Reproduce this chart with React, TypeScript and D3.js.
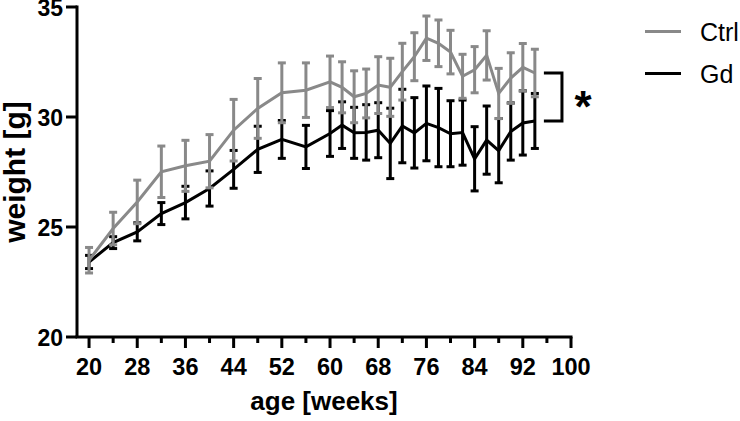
import { useRef, useEffect } from 'react';
import * as d3 from 'd3';

// age in weeks
const weeks = [20, 24, 28, 32, 36, 40, 44, 48, 52, 56, 60, 62, 64, 66, 68, 70, 72, 74, 76, 78, 80, 82, 84, 86, 88, 90, 92, 94];

const ctrlMean = [23.49, 24.93, 26.14, 27.51, 27.78, 27.99, 29.40, 30.39, 31.10, 31.22, 31.60, 31.35, 30.92, 31.07, 31.45, 31.35, 32.06, 32.74, 33.58, 33.35, 32.95, 31.85, 32.15, 32.80, 31.07, 31.77, 32.26, 32.00];
const ctrlSd = [0.58, 0.74, 0.99, 1.17, 1.16, 1.21, 1.40, 1.36, 1.36, 1.24, 1.17, 1.16, 1.18, 1.11, 1.29, 1.32, 1.29, 1.09, 1.01, 1.06, 0.99, 1.00, 1.05, 1.12, 1.14, 1.15, 1.08, 1.08];

const gdMean = [23.41, 24.29, 24.78, 25.61, 26.11, 26.75, 27.62, 28.53, 28.98, 28.64, 29.25, 29.63, 29.28, 29.30, 29.40, 28.80, 29.59, 29.28, 29.71, 29.52, 29.24, 29.29, 28.10, 28.95, 28.47, 29.34, 29.73, 29.82];
const gdSd = [0.30, 0.27, 0.41, 0.50, 0.74, 0.80, 0.86, 1.05, 0.86, 0.98, 1.04, 1.06, 1.16, 1.26, 1.25, 1.60, 1.67, 1.60, 1.70, 1.78, 1.50, 1.48, 1.46, 1.55, 1.46, 1.30, 1.46, 1.25];

const yTicks = [20, 25, 30, 35];
const xTicks = d3.range(20, 101, 4);
const xLabels = d3.range(20, 101, 8);

const seriesNames = ['Ctrl', 'Gd'];

export default function App() {
  const ref = useRef(null);

  useEffect(() => {
    const el = ref.current;
    el.innerHTML = '';
    const W = 740, H = 421;
    const font = '"Liberation Sans", Arial, sans-serif';
    const grey = '#898989';

    const x = d3.scaleLinear().domain([18, 100]).range([77, 571]);
    const y = d3.scaleLinear().domain([20, 35]).range([337, 7]);

    const svg = d3.select(el).append('svg')
      .attr('width', W).attr('height', H)
      .style('position', 'absolute').style('left', 0).style('top', 0)
      .style('font-family', font);

    // axes
    const axes = svg.append('g').attr('stroke', '#000').attr('stroke-width', 3).attr('fill', 'none');
    axes.append('line').attr('x1', x(18)).attr('x2', x(18)).attr('y1', y(35) - 1.5).attr('y2', y(20));
    axes.append('line').attr('x1', x(18) - 1.5).attr('x2', x(100) + 1.5).attr('y1', y(20)).attr('y2', y(20));
    yTicks.forEach(t => {
      axes.append('line').attr('x1', x(18) - 11).attr('x2', x(18)).attr('y1', y(t)).attr('y2', y(t));
    });
    xTicks.forEach(t => {
      const major = (t - 20) % 8 === 0;
      axes.append('line').attr('x1', x(t)).attr('x2', x(t))
        .attr('y1', y(20)).attr('y2', y(20) + (major ? 11 : 6));
    });

    svg.append('g').selectAll('text').data(yTicks).enter().append('text')
      .attr('x', 63).attr('y', d => y(d) + 8.5)
      .attr('text-anchor', 'end').attr('font-size', 23).attr('font-weight', 700)
      .text(d => d);
    svg.append('g').selectAll('text').data(xLabels).enter().append('text')
      .attr('x', d => x(d)).attr('y', 375)
      .attr('text-anchor', 'middle').attr('font-size', 23.5).attr('font-weight', 700)
      .text(d => d);

    svg.append('text')
      .attr('x', (x(18) + x(100)) / 2).attr('y', 410)
      .attr('text-anchor', 'middle').attr('font-size', 26).attr('font-weight', 700)
      .text('age [weeks]');
    svg.append('text')
      .attr('transform', `translate(25,${(y(20) + y(35)) / 2}) rotate(-90)`)
      .attr('text-anchor', 'middle').attr('font-size', 30).attr('font-weight', 700)
      .text('weight [g]');

    const line = d3.line().x(d => x(d[0])).y(d => y(d[1]));

    const drawSeries = (means, sds, color) => {
      const g = svg.append('g').attr('stroke', color).attr('stroke-width', 3).attr('fill', 'none');
      const pts = weeks.map((w, i) => [w, means[i], sds[i]]);
      pts.forEach(([w, m, s]) => {
        const cx = x(w);
        g.append('line').attr('x1', cx).attr('x2', cx).attr('y1', y(m + s)).attr('y2', y(m - s));
        g.append('line').attr('x1', cx - 4).attr('x2', cx + 4).attr('y1', y(m + s)).attr('y2', y(m + s));
        g.append('line').attr('x1', cx - 4).attr('x2', cx + 4).attr('y1', y(m - s)).attr('y2', y(m - s));
      });
      g.append('path').datum(pts).attr('d', line).attr('stroke-linejoin', 'miter');
    };
    drawSeries(gdMean, gdSd, '#000');
    drawSeries(ctrlMean, ctrlSd, grey);

    // significance bracket
    const last = weeks.length - 1;
    svg.append('path')
      .attr('d', `M${x(95.5)},${y(ctrlMean[last])}H${x(98.5)}V${y(gdMean[last])}H${x(95.5)}`)
      .attr('fill', 'none').attr('stroke', '#000').attr('stroke-width', 3);
    svg.append('text')
      .attr('x', x(102)).attr('y', (y(ctrlMean[last]) + y(gdMean[last])) / 2 + 25)
      .attr('text-anchor', 'middle').attr('font-size', 44).attr('font-weight', 700)
      .text('*');

    // legend
    const legend = svg.append('g');
    [grey, '#000'].forEach((c, i) => {
      const ly = 31.5 + i * 42;
      legend.append('line').attr('x1', 645).attr('x2', 681).attr('y1', ly).attr('y2', ly)
        .attr('stroke', c).attr('stroke-width', 3);
      legend.append('text').attr('x', 700).attr('y', ly + 9)
        .attr('font-size', 25).text(seriesNames[i]);
    });
  }, []);

  return <div ref={ref} />;
}
